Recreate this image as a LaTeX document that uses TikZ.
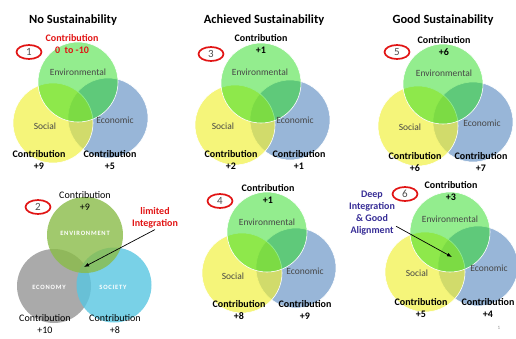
\documentclass[tikz,border=0pt]{standalone}
\usepackage{fontspec}
\setmainfont{Carlito}
\usetikzlibrary{arrows.meta}
\usetikzlibrary{shapes}

\definecolor{envgreen}{RGB}{40,220,30}
\definecolor{socyellow}{RGB}{240,240,50}
\definecolor{ecoblue}{RGB}{152,182,216}
\definecolor{olivegreen}{RGB}{138,188,72}
\definecolor{coolgray}{RGB}{170,170,170}
\definecolor{skycyan}{RGB}{88,198,225}
\definecolor{badgered}{RGB}{225,20,20}
\definecolor{deepblue}{RGB}{55,45,150}

\tikzset{
  ring/.style = {circle, draw = white, line width = 0.6pt, inner sep = 0pt, minimum size = 80pt},
  envring/.style = {ring, fill = envgreen, fill opacity = 0.5},
  socring/.style = {ring, fill = socyellow, fill opacity = 0.65},
  ecoring/.style = {ring, fill = ecoblue},
  heading/.style = {font = \bfseries\fontsize{12.5}{14}\selectfont},
  contrib/.style = {font = \bfseries\fontsize{10}{12}\selectfont, align = center, inner sep = 1pt},
  pillar/.style = {font = \fontsize{9.5}{11}\selectfont, text = black!72},
  capslabel/.style = {font = \bfseries\fontsize{6.5}{8}\selectfont\addfontfeature{LetterSpace=12}, text = white},
  badge/.style = {ellipse, draw = badgered, line width = 1.7pt, minimum width = 25pt, minimum height = 14pt, inner sep = 0pt, font = \fontsize{11}{13}\selectfont, text = black!70}
}

\begin{document}
\begin{tikzpicture}[x = 1pt, y = -1pt]
\useasboundingbox (0,0) rectangle (516,338);

% 1 no sustainability
\draw (73,20) node[heading, name = t1]{No Sustainability};
\draw (108,118) node[ecoring, name = eco1]{};
\draw (53,123) node[socring, name = soc1]{};
\draw (78,82) node[envring, name = env1]{};
\draw (env1) + (0,-10) node[pillar, name = envtxt1]{Environmental};
\draw (soc1) + (-8,3) node[pillar, name = soctxt1]{Social};
\draw (eco1) + (7,2) node[pillar, name = ecotxt1]{Economic};
\draw (29,52) node[badge, name = b1]{1};
\draw (72,44.5) node[contrib, text = badgered, name = ctop1]{Contribution\\0~~to -10};
\draw (39,160) node[contrib, name = cl1]{Contribution\\+9};
\draw (110,160) node[contrib, name = cr1]{Contribution\\+5};

% 3 achieved sustainability
\draw (264,20) node[heading, name = t3]{Achieved Sustainability};
\draw (290,120) node[ecoring, name = eco3]{};
\draw (235,125) node[socring, name = soc3]{};
\draw (261,83) node[envring, name = env3]{};
\draw (env3) + (-1,-11) node[pillar, name = envtxt3]{Environmental};
\draw (soc3) + (-12,1) node[pillar, name = soctxt3]{Social};
\draw (eco3) + (5,0) node[pillar, name = ecotxt3]{Economic};
\draw (211,54) node[badge, name = b3]{3};
\draw (261,43.5) node[contrib, name = ctop3]{Contribution\\+1};
\draw (231,160) node[contrib, name = cl3]{Contribution\\+2};
\draw (299,160) node[contrib, name = cr3]{Contribution\\+1};

% 5 good sustainability
\draw (443,20) node[heading, name = t5]{Good Sustainability};
\draw (473,122) node[ecoring, name = eco5]{};
\draw (418,126) node[socring, name = soc5]{};
\draw (443,84) node[envring, name = env5]{};
\draw (env5) + (1,-11) node[pillar, name = envtxt5]{Environmental};
\draw (soc5) + (-8,1) node[pillar, name = soctxt5]{Social};
\draw (eco5) + (9,1) node[pillar, name = ecotxt5]{Economic};
\draw (397,52) node[badge, name = b5]{5};
\draw (444,46) node[contrib, name = ctop5]{Contribution\\+6};
\draw (415,162) node[contrib, name = cl5]{Contribution\\+6};
\draw (481,162) node[contrib, name = cr5]{Contribution\\+7};

% 2 limited integration
\draw (54,286) node[ring, draw = none, fill = coolgray, minimum size = 74pt, name = eco2]{};
\draw (114,285) node[ring, draw = none, fill = skycyan, fill opacity = 0.8, minimum size = 75pt, name = soc2]{};
\draw (85,235) node[ring, draw = none, fill = olivegreen, fill opacity = 0.8, minimum size = 76pt, name = env2]{};
\draw (env2) + (0,-2) node[capslabel, name = envtxt2]{ENVIRONMENT};
\draw (eco2) + (-5,1) node[capslabel, name = ecotxt2]{ECONOMY};
\draw (soc2) + (-1,2) node[capslabel, name = soctxt2]{SOCIETY};
\draw (38,207) node[badge, name = b2]{2};
\draw (85,201) node[contrib, font = \fontsize{10}{12}\selectfont, name = ctop2]{Contribution\\+9};
\draw (45,324) node[contrib, font = \fontsize{10}{12}\selectfont, name = cl2]{Contribution\\+10};
\draw (115,324) node[contrib, font = \fontsize{10}{12}\selectfont, name = cr2]{Contribution\\+8};
\draw (155,218) node[contrib, text = badgered, name = lim]{limited\\Integration};
\coordinate (x2) at (84,267);
\draw[-{Latex[length = 5pt]}, line width = 0.7pt] (lim.south) -- (x2);

% 4 achieved sustainability
\draw (296,268) node[ecoring, name = eco4]{};
\draw (242,273) node[socring, name = soc4]{};
\draw (267,232) node[envring, name = env4]{};
\draw (env4) + (0,-10) node[pillar, name = envtxt4]{Environmental};
\draw (soc4) + (-9,3) node[pillar, name = soctxt4]{Social};
\draw (eco4) + (9,3) node[pillar, name = ecotxt4]{Economic};
\draw (220,201) node[badge, name = b4]{4};
\draw (268,194) node[contrib, name = ctop4]{Contribution\\+1};
\draw (239,310) node[contrib, name = cl4]{Contribution\\+8};
\draw (305,310) node[contrib, name = cr4]{Contribution\\+9};

% 6 deep integration
\draw (478,266) node[ecoring, name = eco6]{};
\draw (425,272) node[socring, name = soc6]{};
\draw (450,232) node[envring, name = env6]{};
\draw (env6) + (0,-13) node[pillar, name = envtxt6]{Environmental};
\draw (soc6) + (-8,1) node[pillar, name = soctxt6]{Social};
\draw (eco6) + (11,2) node[pillar, name = ecotxt6]{Economic};
\draw (405,194) node[badge, name = b6]{6};
\draw (451,191) node[contrib, name = ctop6]{Contribution\\+3};
\draw (421,308) node[contrib, name = cl6]{Contribution\\+5};
\draw (488,308) node[contrib, name = cr6]{Contribution\\+4};
\draw (372,213) node[contrib, text = deepblue, name = deep]{Deep\\Integration\\\& Good\\Alignment};
\coordinate (x6) at (452,257);
\draw[-{Latex[length = 5pt]}, line width = 0.7pt] (deep) -- (x6);
\draw (499,328) node[font = \fontsize{5}{6}\selectfont, text = black!45, name = pg]{1};
\end{tikzpicture}
\end{document}
